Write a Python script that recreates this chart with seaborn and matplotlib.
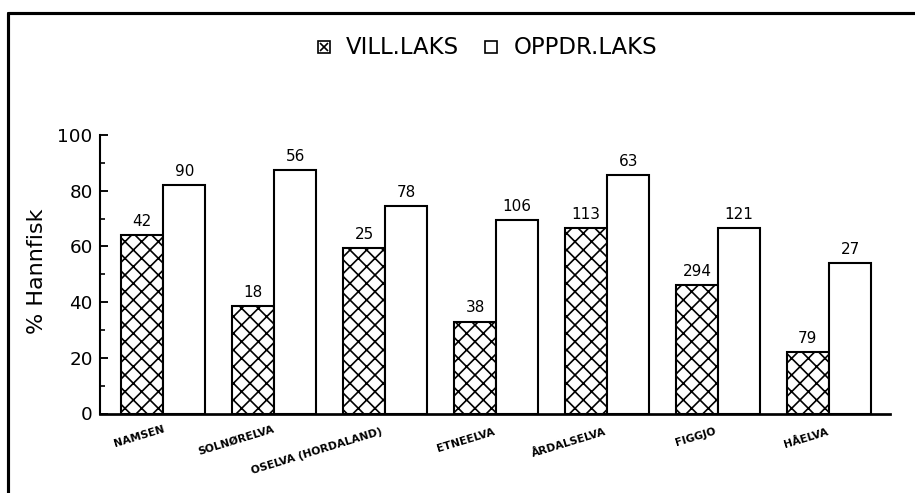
import numpy as np
import pandas as pd
import matplotlib
matplotlib.use("Agg")
import matplotlib.pyplot as plt
import matplotlib.transforms as mtransforms
from matplotlib.lines import Line2D
from matplotlib.legend_handler import HandlerTuple
import seaborn as sns

# ---- data ----
categories = ["NAMSEN", "SOLNØRELVA", "OSELVA (HORDALAND)", "ETNEELVA",
              "ÅRDALSELVA", "FIGGJO", "HÅELVA"]
series_names = ["VILL.LAKS", "OPPDR.LAKS"]
vill_values = [64, 38.5, 59.5, 33, 66.5, 46, 22]
oppdr_values = [82, 87.5, 74.5, 69.5, 85.5, 66.5, 54]
vill_counts = [42, 18, 25, 38, 113, 294, 79]
oppdr_counts = [90, 56, 78, 106, 63, 121, 27]
y_ticks = [0, 20, 40, 60, 80, 100]
y_label = "% Hannfisk"

# layout for the slanted category labels (offset from category centre, axes-y)
label_dx = [-0.22, -0.34, -0.62, -0.27, -0.34, -0.20, -0.21]
label_y = [-0.081, -0.095, -0.135, -0.095, -0.106, -0.084, -0.088]

df = pd.DataFrame({
    "river": categories * 2,
    "group": [series_names[0]] * len(categories) + [series_names[1]] * len(categories),
    "pct": vill_values + oppdr_values,
})

sns.set_style("white")
plt.rcParams["font.family"] = ["DejaVu Sans"]
plt.rcParams["hatch.linewidth"] = 0.8
plt.rcParams["hatch.color"] = "black"
for k in ["text.color", "axes.labelcolor", "xtick.color", "ytick.color"]:
    plt.rcParams[k] = "black"

W, H, DPI = 915, 493, 150
fig = plt.figure(figsize=(W / DPI, H / DPI), dpi=DPI)
ax = fig.add_axes([100 / W, 1 - 413.5 / H, 790 / W, 278.5 / H])

sns.barplot(data=df, x="river", y="pct", hue="group", order=categories,
            hue_order=series_names, palette=["white", "white"],
            edgecolor="black", linewidth=1.0, width=0.76, dodge=True,
            legend=False, ax=ax, saturation=1)

for p in ax.containers[0]:
    p.set_hatch("xxx")

ax.bar_label(ax.containers[0], labels=[str(v) for v in vill_counts],
             padding=3, fontsize=7.3, color="black")
ax.bar_label(ax.containers[1], labels=[str(v) for v in oppdr_counts],
             padding=3, fontsize=7.3, color="black")

ax.set_xlim(-0.57, len(categories) - 1 + 0.55)
ax.set_ylim(0, 100)
ax.set_yticks(y_ticks)
ax.set_yticks([10, 30, 50, 70, 90], minor=True)
ax.tick_params(axis="y", which="major", direction="in", length=3.8, width=0.9,
               labelsize=8.8, pad=3.5, left=True)
ax.tick_params(axis="y", which="minor", direction="in", length=2.2, width=0.8, left=True)
ax.tick_params(axis="x", length=0, labelbottom=False)
ax.set_xlabel("")
ax.set_ylabel(y_label, fontsize=10.7)
ax.yaxis.set_label_coords(-0.067, 0.51)

for s in ["top", "right"]:
    ax.spines[s].set_visible(False)
ax.spines["left"].set_linewidth(1.0)
ax.spines["bottom"].set_linewidth(1.3)
ax.spines["left"].set_color("black")
ax.spines["bottom"].set_color("black")

trans = mtransforms.blended_transform_factory(ax.transData, ax.transAxes)
for i, name in enumerate(categories):
    ax.text(i + label_dx[i], label_y[i], name, transform=trans, rotation=17,
            ha="center", va="center", fontsize=5.2, fontweight="bold",
            rotation_mode="anchor", color="black")

sq_kw = dict(marker="s", linestyle="None", markerfacecolor="white",
             markeredgecolor="black", markeredgewidth=0.8, markersize=5.4)
handles = [
    (Line2D([], [], **sq_kw),
     Line2D([], [], marker="x", linestyle="None", color="black",
            markersize=4.0, markeredgewidth=0.8)),
    Line2D([], [], **sq_kw),
]
fig.legend(handles, series_names, loc="center", bbox_to_anchor=(0.533, 1 - 48 / H),
           ncol=2, frameon=False, fontsize=10.9, handlelength=0.5,
           handletextpad=0.75, columnspacing=1.15,
           handler_map={tuple: HandlerTuple(ndivide=1, pad=0)})

# page border (top and left)
fig.add_artist(Line2D([8.3 / W, 1], [1 - 12.5 / H, 1 - 12.5 / H],
                      transform=fig.transFigure, color="black", lw=1.5))
fig.add_artist(Line2D([8.3 / W, 8.3 / W], [0, 1 - 12.5 / H],
                      transform=fig.transFigure, color="black", lw=1.5))

fig.savefig("out.png", dpi=DPI, facecolor="white")
